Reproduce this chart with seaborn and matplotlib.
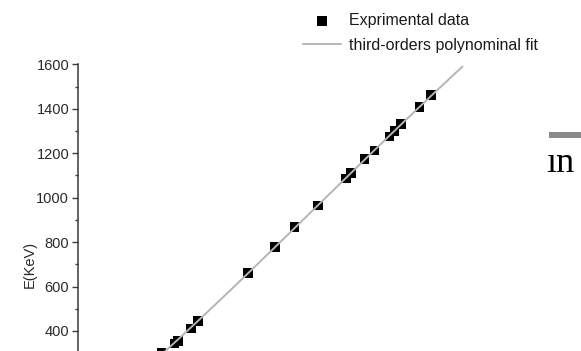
import numpy as np
import pandas as pd
import matplotlib.pyplot as plt
import matplotlib.patches as mpatches
import seaborn as sns

# calibration peaks: channel vs. energy (keV)
channel = [336, 388, 401, 455, 481, 681, 791, 868, 961, 1075, 1095, 1148,
           1188, 1248, 1268, 1295, 1368, 1415]
energy = [302.9, 344.3, 356.0, 411.1, 444.0, 661.7, 778.9, 867.4, 964.1,
          1085.8, 1112.1, 1173.2, 1212.9, 1274.5, 1299.1, 1332.5, 1408.0, 1460.8]
y_ticks = [400, 600, 800, 1000, 1200, 1400, 1600]
y_minor = [500, 700, 900, 1100, 1300, 1500]

sns.set_style('ticks')
plt.rcParams['font.family'] = ['Liberation Sans', 'DejaVu Sans']

df = pd.DataFrame({'channel': channel, 'energy': energy})

# third order polynomial fit
coef = np.polyfit(df['channel'], df['energy'], 3)
fit_x = np.linspace(200, 1540, 200)
fit = pd.DataFrame({'channel': fit_x, 'energy': np.polyval(coef, fit_x)})

W, H = 581, 351
fig = plt.figure(figsize=(W / 100, H / 100), dpi=100)
top_px, bottom_px = 64.3, 464.3
left_px, right_px = 77.5, 560
ax = fig.add_axes([left_px / W, 1 - bottom_px / H,
                   (right_px - left_px) / W, (bottom_px - top_px) / H])

sns.scatterplot(data=df, x='channel', y='energy', marker='s', s=48,
                color='black', edgecolor='none', label='Exprimental data',
                ax=ax, zorder=2)
sns.lineplot(data=fit, x='channel', y='energy', color='#b5b5b5', lw=1.4,
             label='third-orders polynominal fit', ax=ax, zorder=3)

ax.set_xlim(0, (right_px - left_px) * 4)
ax.set_ylim(-200, 1600)
ax.set_xticks([])
ax.set_yticks(y_ticks)
ax.set_yticks(y_minor, minor=True)
ax.spines['top'].set_visible(False)
ax.spines['right'].set_visible(False)
for sp in ax.spines.values():
    sp.set_color('#3a3a3a')
    sp.set_linewidth(1.1)
ax.tick_params(axis='y', which='major', length=4, width=1.0, colors='#3a3a3a',
               labelsize=10.5, labelcolor='#2a2a2a', pad=2)
ax.tick_params(axis='y', which='minor', length=2.5, width=1.0, colors='#3a3a3a')
ax.set_xlabel('')
ax.set_ylabel('E(KeV)', fontsize=10.5, color='#2a2a2a', labelpad=0)

leg = ax.legend(loc='upper left', bbox_to_anchor=(303 / W, 1 - 13 / H),
                bbox_transform=fig.transFigure, frameon=False, fontsize=11.5,
                borderpad=0, borderaxespad=0, handlelength=2.4,
                handletextpad=0.5, labelspacing=0.62)
for t in leg.get_texts():
    t.set_color('#1a1a1a')

# pieces of the surrounding page
fig.patches.append(mpatches.Rectangle((549 / W, 1 - 138 / H), 32 / W, 6 / H,
                                      transform=fig.transFigure,
                                      facecolor='#8a8a8a', edgecolor='none'))
fig.text(546 / W, 1 - 172 / H, 'ın', fontsize=26, family='Liberation Serif',
         color='black', ha='left', va='baseline')

fig.savefig('out.png', dpi=100)
